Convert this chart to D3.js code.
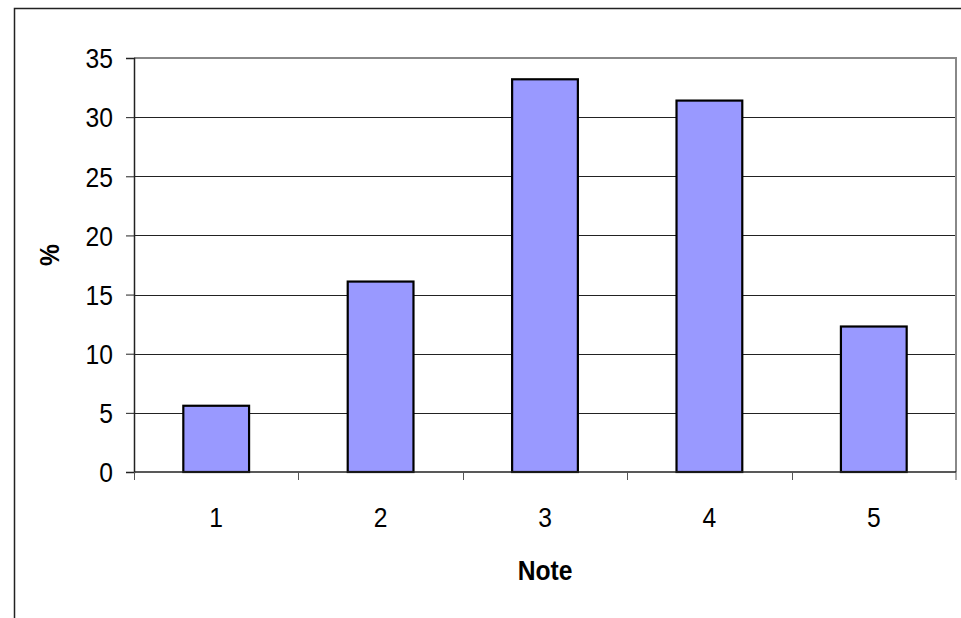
<!DOCTYPE html>
<html lang="en">
<head>
    <meta charset="utf-8">
    <title>Note</title>
    <script type="text/javascript" src="https://d3js.org/d3.v7.min.js"></script>
    <style>
        body { margin: 0; background: #fff; }
        text { font-family: "Liberation Sans", Arial, sans-serif; fill: #000; }
    </style>
</head>
<body>
    <div id="chart"></div>
    <script type="text/javascript">
        const notes = ["1", "2", "3", "4", "5"];
        const percents = [5.6, 16.1, 33.2, 31.4, 12.3];
        const yTicks = [0, 5, 10, 15, 20, 25, 30, 35];

        const width = 961;
        const height = 618;
        const plot = {left: 134, right: 956, top: 58, bottom: 472};
        const fontSize = 28;
        const squeeze = 0.88; // the original font is a narrow Arial

        const svg = d3.select("#chart")
            .append("svg")
            .attr("width", width)
            .attr("height", height);

        // outer chart frame (runs off the right and bottom edges)
        svg.append("rect")
            .attr("x", 14.5)
            .attr("y", 8.5)
            .attr("width", 1000)
            .attr("height", 1000)
            .attr("fill", "none")
            .attr("stroke", "#222")
            .attr("stroke-width", 1.5);

        const xScale = d3.scaleBand()
            .domain(notes)
            .range([plot.left, plot.right]);

        const yScale = d3.scaleLinear()
            .domain([0, 35])
            .range([plot.bottom, plot.top]);

        // gridlines
        svg.append("g")
            .selectAll("line")
            .data(yTicks.filter(d => d > 0 && d < 35))
            .enter()
            .append("line")
                .attr("x1", plot.left)
                .attr("x2", plot.right)
                .attr("y1", d => Math.round(yScale(d)) + 0.5)
                .attr("y2", d => Math.round(yScale(d)) + 0.5)
                .attr("stroke", "#222")
                .attr("stroke-width", 1);

        // plot area border top/right in gray
        svg.append("path")
            .attr("d", `M${plot.left},${yScale(35)}H${plot.right}V${plot.bottom}`)
            .attr("fill", "none")
            .attr("stroke", "#888")
            .attr("stroke-width", 2);

        const barWidth = xScale.bandwidth() / 2.5;

        svg.append("g")
            .selectAll("rect")
            .data(notes)
            .enter()
            .append("rect")
                .attr("x", (d) => xScale(d) + (xScale.bandwidth() - barWidth) / 2)
                .attr("y", (d, i) => yScale(percents[i]))
                .attr("width", barWidth)
                .attr("height", (d, i) => yScale(0) - yScale(percents[i]))
                .attr("fill", "#9999ff")
                .attr("stroke", "#000")
                .attr("stroke-width", 2.2);

        // y axis
        const yAxis = d3.axisLeft(yScale)
            .tickValues(yTicks)
            .tickSize(8)
            .tickPadding(13);
        const gy = svg.append("g")
            .attr("transform", `translate(${plot.left},0)`)
            .call(yAxis);
        gy.select(".domain").attr("stroke", "#222").attr("stroke-width", 1.5);
        gy.selectAll(".tick line").attr("stroke", "#222");
        gy.selectAll("text")
            .attr("font-size", fontSize)
            .attr("font-family", null)
            .attr("x", -21 / squeeze)
            .attr("dy", "0.35em")
            .attr("transform", `scale(${squeeze},1)`);

        // x axis: ticks sit on band boundaries
        const gx = svg.append("g")
            .attr("transform", `translate(0,${plot.bottom})`);
        gx.append("line")
            .attr("x1", plot.left)
            .attr("x2", plot.right)
            .attr("stroke", "#222")
            .attr("stroke-width", 1.5);
        gx.selectAll("line.tk")
            .data(notes.concat(["end"]))
            .enter()
            .append("line")
                .attr("class", "tk")
                .attr("x1", d => d === "end" ? plot.right : Math.round(xScale(d)) + 0.5)
                .attr("x2", d => d === "end" ? plot.right : Math.round(xScale(d)) + 0.5)
                .attr("y1", 0)
                .attr("y2", 8)
                .attr("stroke", "#555");
        gx.selectAll("text")
            .data(notes)
            .enter()
            .append("text")
                .attr("transform", d => `translate(${xScale(d) + xScale.bandwidth() / 2},45) scale(${squeeze},1)`)
                .attr("dy", "0.35em")
                .attr("text-anchor", "middle")
                .attr("font-size", fontSize)
                .text(d => d);

        // axis titles
        svg.append("text")
            .attr("transform", `translate(49,255) rotate(-90) scale(${squeeze},1)`)
            .attr("text-anchor", "middle")
            .attr("dy", "0.35em")
            .attr("font-size", fontSize)
            .attr("font-weight", "bold")
            .text("%");

        svg.append("text")
            .attr("transform", `translate(${(plot.left + plot.right) / 2},570) scale(${squeeze},1)`)
            .attr("dy", "0.35em")
            .attr("text-anchor", "middle")
            .attr("font-size", fontSize)
            .attr("font-weight", "bold")
            .text("Note");
    </script>
</body>
</html>
